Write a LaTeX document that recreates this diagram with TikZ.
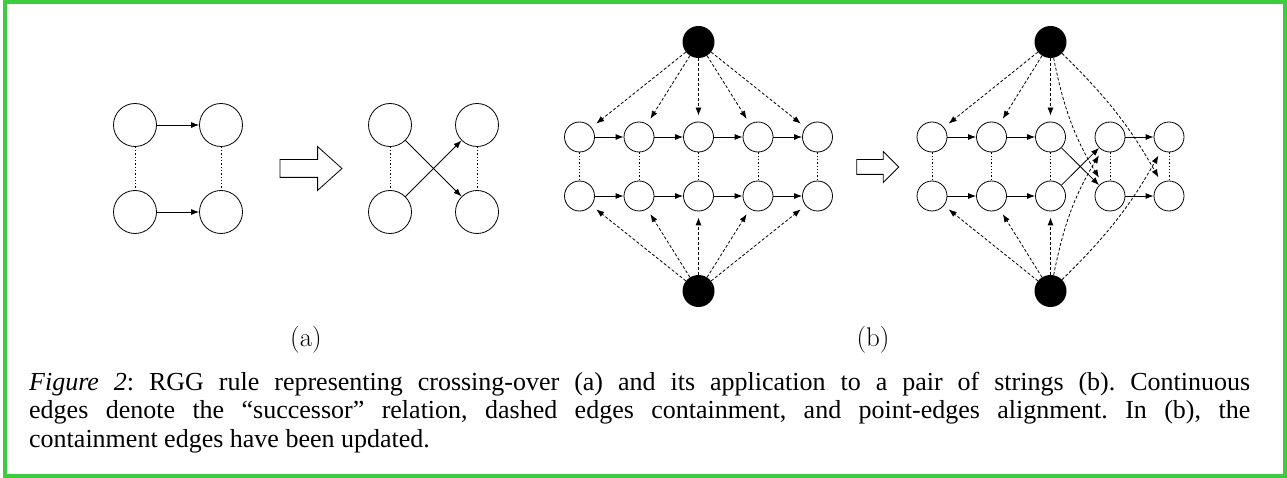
\documentclass[tikz,border=0pt]{standalone}
\usepackage{fontspec}
\newfontfamily\capfont{Liberation Serif}
\usetikzlibrary{arrows.meta,shapes.arrows}
\definecolor{framegreen}{RGB}{61,204,61}

\begin{document}
\begin{tikzpicture}[x=1pt,y=-1pt,
    bignode/.style={draw,circle,minimum size=43pt,inner sep=0pt,line width=0.8pt},
    smallnode/.style={draw,circle,minimum size=30pt,inner sep=0pt,line width=0.8pt},
    blacknode/.style={fill,circle,minimum size=32pt,inner sep=0pt},
    succ/.style={line width=0.8pt,-{Latex[length=8pt,width=6pt]}},
    pointedge/.style={line width=0.8pt,dash pattern=on 1.3pt off 2pt},
    contain/.style={line width=0.8pt,dash pattern=on 3pt off 2pt,shorten >=6pt,-{Latex[length=8pt,width=6pt]}},
    rulearrow/.style={draw,single arrow,line width=0.8pt,inner xsep=0pt,single arrow head indent=0pt},
    sublabel/.style={font=\fontsize{27}{30}\selectfont}]
    \useasboundingbox (0,0) rectangle (1287,478);
    \draw[line width=4pt,framegreen] (5,2) rectangle (1284.5,476);
    % (a) the rule
    \node[bignode] (a1) at (135,125) {};
    \node[bignode] (a2) at (221,125) {};
    \node[bignode] (a3) at (135,212) {};
    \node[bignode] (a4) at (221,212) {};
    \draw[succ] (a1) -- (a2);
    \draw[succ] (a3) -- (a4);
    \draw[pointedge] (a1) -- (a3);
    \draw[pointedge] (a2) -- (a4);
    \node[rulearrow,minimum height=62pt,inner ysep=8.5pt,single arrow head extend=13pt,single arrow tip angle=84] (rulea) at (306,168.5) {};
    \node[bignode] (c1) at (390,125) {};
    \node[bignode] (c2) at (477,125) {};
    \node[bignode] (c3) at (390,212) {};
    \node[bignode] (c4) at (477,212) {};
    \draw[succ] (c1) -- (c4);
    \draw[succ] (c3) -- (c2);
    \draw[pointedge] (c1) -- (c3);
    \draw[pointedge] (c2) -- (c4);
    \node[sublabel] (la) at (306,340) {(a)};
    % (b) before
    \node[blacknode] (topl) at (698.5,42) {};
    \node[blacknode] (botl) at (698.5,291) {};
    \node[smallnode] (tl1) at (579.5,137) {};
    \node[smallnode] (tl2) at (639,137) {};
    \node[smallnode] (tl3) at (698.5,137) {};
    \node[smallnode] (tl4) at (758,137) {};
    \node[smallnode] (tl5) at (817.5,137) {};
    \node[smallnode] (bl1) at (579.5,196) {};
    \node[smallnode] (bl2) at (639,196) {};
    \node[smallnode] (bl3) at (698.5,196) {};
    \node[smallnode] (bl4) at (758,196) {};
    \node[smallnode] (bl5) at (817.5,196) {};
    \draw[succ] (tl1) -- (tl2);
    \draw[succ] (tl2) -- (tl3);
    \draw[succ] (tl3) -- (tl4);
    \draw[succ] (tl4) -- (tl5);
    \draw[succ] (bl1) -- (bl2);
    \draw[succ] (bl2) -- (bl3);
    \draw[succ] (bl3) -- (bl4);
    \draw[succ] (bl4) -- (bl5);
    \draw[pointedge] (tl1) -- (bl1);
    \draw[pointedge] (tl2) -- (bl2);
    \draw[pointedge] (tl3) -- (bl3);
    \draw[pointedge] (tl4) -- (bl4);
    \draw[pointedge] (tl5) -- (bl5);
    \draw[contain] (topl) -- (tl1);
    \draw[contain] (topl) -- (tl2);
    \draw[contain] (topl) -- (tl3);
    \draw[contain] (topl) -- (tl4);
    \draw[contain] (topl) -- (tl5);
    \draw[contain] (botl) -- (bl1);
    \draw[contain] (botl) -- (bl2);
    \draw[contain] (botl) -- (bl3);
    \draw[contain] (botl) -- (bl4);
    \draw[contain] (botl) -- (bl5);
    \node[rulearrow,minimum height=42pt,inner ysep=7pt,single arrow head extend=8pt,single arrow tip angle=90] (ruleb) at (874,167) {};
    % (b) after
    \node[blacknode] (topr) at (1050.5,42) {};
    \node[blacknode] (botr) at (1050.5,291) {};
    \node[smallnode] (tr1) at (932,137) {};
    \node[smallnode] (tr2) at (991.5,137) {};
    \node[smallnode] (tr3) at (1050.5,137) {};
    \node[smallnode] (tr4) at (1110,137) {};
    \node[smallnode] (tr5) at (1169,137) {};
    \node[smallnode] (br1) at (932,196) {};
    \node[smallnode] (br2) at (991.5,196) {};
    \node[smallnode] (br3) at (1050.5,196) {};
    \node[smallnode] (br4) at (1110,196) {};
    \node[smallnode] (br5) at (1169,196) {};
    \draw[succ] (tr1) -- (tr2);
    \draw[succ] (tr2) -- (tr3);
    \draw[succ] (tr3) -- (br4);
    \draw[succ] (tr4) -- (tr5);
    \draw[succ] (br1) -- (br2);
    \draw[succ] (br2) -- (br3);
    \draw[succ] (br3) -- (tr4);
    \draw[succ] (br4) -- (br5);
    \draw[pointedge] (tr1) -- (br1);
    \draw[pointedge] (tr2) -- (br2);
    \draw[pointedge] (tr3) -- (br3);
    \draw[pointedge] (tr4) -- (br4);
    \draw[pointedge] (tr5) -- (br5);
    \draw[contain] (topr) -- (tr1);
    \draw[contain] (topr) -- (tr2);
    \draw[contain] (topr) -- (tr3);
    \draw[contain] (topr) to[bend right=10] (br4);
    \draw[contain] (topr) to[bend left=8] (br5);
    \draw[contain] (botr) -- (br1);
    \draw[contain] (botr) -- (br2);
    \draw[contain] (botr) -- (br3);
    \draw[contain] (botr) to[bend left=10] (tr4);
    \draw[contain] (botr) to[bend right=8] (tr5);
    \node[sublabel] (lb) at (873,340) {(b)};
    \node[anchor=base west,text width=1221pt,align=justify,inner sep=0pt,font=\capfont\fontsize{26}{28.5}\selectfont] (cap) at (29,390) {\frenchspacing\textit{Figure 2}: RGG rule representing crossing-over (a) and its application to a pair of strings (b). Continuous\linebreak edges denote the “successor” relation, dashed edges containment, and point-edges alignment. In (b), the\linebreak containment edges have been updated.};
\end{tikzpicture}
\end{document}
